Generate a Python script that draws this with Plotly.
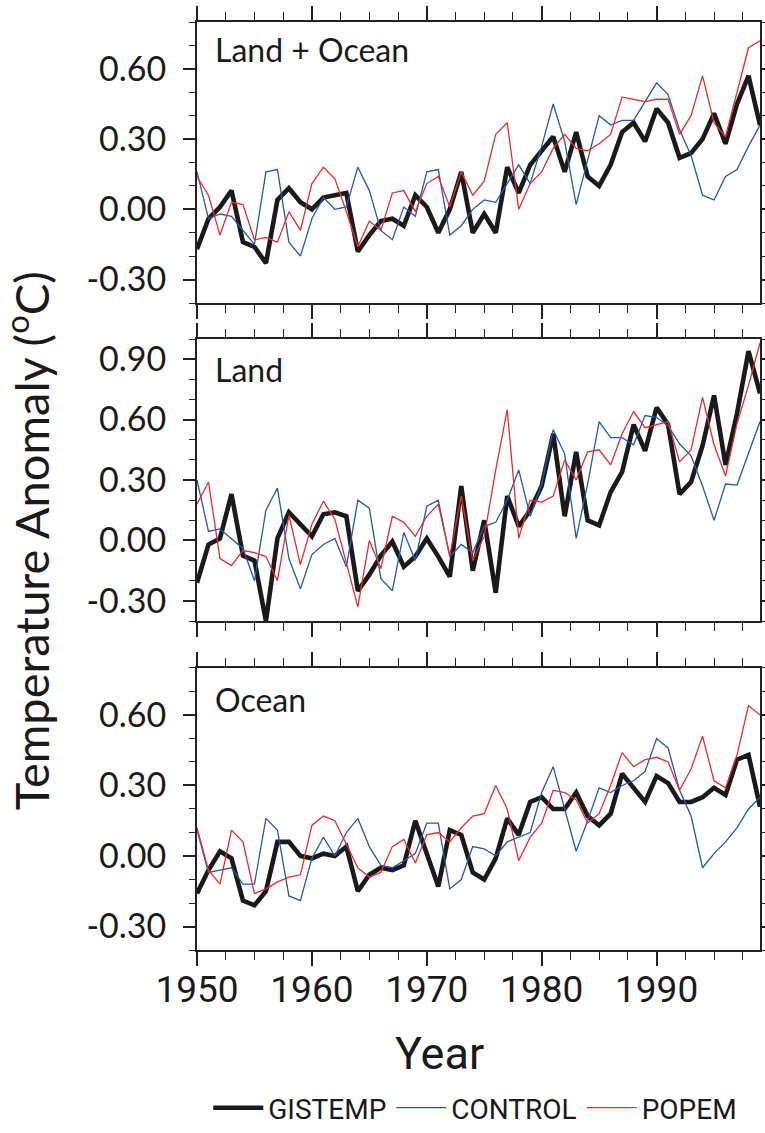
import plotly.graph_objects as go

years = list(range(1950, 2000))

# Land + Ocean
lo_gistemp = [-0.17, -0.04, 0.01, 0.08, -0.14, -0.16, -0.23, 0.04, 0.09, 0.03,
              0.00, 0.05, 0.06, 0.07, -0.18, -0.11, -0.05, -0.04, -0.07, 0.06,
              0.01, -0.10, 0.00, 0.16, -0.10, -0.02, -0.10, 0.18, 0.07, 0.19,
              0.25, 0.31, 0.16, 0.33, 0.14, 0.10, 0.19, 0.33, 0.37, 0.29,
              0.43, 0.37, 0.22, 0.24, 0.30, 0.41, 0.28, 0.45, 0.57, 0.36]
lo_control = [0.16, -0.04, -0.02, -0.03, -0.09, -0.15, 0.16, 0.17, -0.14, -0.20,
              -0.04, 0.05, 0.00, 0.01, 0.18, 0.08, -0.09, -0.13, 0.01, -0.03,
              0.16, 0.17, -0.11, -0.07, 0.00, 0.04, 0.03, 0.11, 0.19, 0.11,
              0.27, 0.45, 0.29, 0.02, 0.21, 0.40, 0.36, 0.38, 0.38, 0.46,
              0.54, 0.49, 0.34, 0.23, 0.06, 0.04, 0.14, 0.17, 0.27, 0.36]
lo_popem = [0.14, 0.06, -0.11, 0.03, 0.02, -0.13, -0.12, -0.14, -0.01, -0.09,
            0.11, 0.18, 0.13, -0.01, -0.16, -0.05, -0.09, 0.07, 0.08, -0.01,
            0.11, 0.14, 0.01, 0.16, 0.06, 0.12, 0.32, 0.37, 0.00, 0.11,
            0.16, 0.26, 0.32, 0.26, 0.25, 0.28, 0.32, 0.48, 0.47, 0.46,
            0.47, 0.47, 0.32, 0.40, 0.57, 0.37, 0.31, 0.50, 0.69, 0.72]

# Land
land_gistemp = [-0.21, -0.02, 0.01, 0.23, -0.075, -0.10, -0.40, 0.01, 0.14, 0.08,
                0.02, 0.13, 0.14, 0.12, -0.25, -0.17, -0.075, -0.005, -0.13, -0.08,
                0.01, -0.08, -0.18, 0.27, -0.15, 0.10, -0.26, 0.22, 0.07, 0.15,
                0.27, 0.53, 0.12, 0.44, 0.10, 0.075, 0.24, 0.34, 0.575, 0.445,
                0.66, 0.575, 0.23, 0.29, 0.47, 0.72, 0.375, 0.63, 0.94, 0.73]
land_control = [0.30, 0.045, 0.057, 0.01, -0.04, -0.20, 0.15, 0.26, -0.09, -0.24,
                -0.07, -0.02, 0.01, -0.13, 0.20, 0.16, -0.19, -0.25, 0.04, -0.10,
                0.17, 0.20, -0.08, -0.02, -0.06, 0.07, 0.09, 0.20, 0.35, 0.12,
                0.28, 0.55, 0.43, 0.01, 0.28, 0.59, 0.51, 0.51, 0.475, 0.62,
                0.61, 0.57, 0.48, 0.42, 0.27, 0.10, 0.28, 0.275, 0.43, 0.59]
land_popem = [0.18, 0.29, -0.09, -0.125, -0.05, -0.06, -0.08, -0.20, 0.125, -0.12,
              0.08, 0.195, 0.105, -0.11, -0.33, 0.00, -0.14, 0.12, 0.09, 0.02,
              0.12, 0.18, -0.075, 0.22, -0.10, 0.02, 0.35, 0.65, 0.01, 0.20,
              0.19, 0.22, 0.40, 0.30, 0.44, 0.45, 0.375, 0.53, 0.64, 0.56,
              0.575, 0.59, 0.39, 0.45, 0.71, 0.475, 0.32, 0.58, 0.77, 0.98]

# Ocean
ocean_gistemp = [-0.16, -0.06, 0.02, -0.01, -0.19, -0.21, -0.15, 0.06, 0.06, 0.00,
                 -0.01, 0.01, 0.00, 0.04, -0.15, -0.08, -0.05, -0.06, -0.04, 0.15,
                 0.01, -0.13, 0.11, 0.09, -0.07, -0.10, -0.01, 0.16, 0.09, 0.23,
                 0.25, 0.20, 0.20, 0.27, 0.17, 0.13, 0.18, 0.35, 0.29, 0.23,
                 0.34, 0.31, 0.23, 0.23, 0.25, 0.29, 0.26, 0.41, 0.43, 0.21]
ocean_control = [0.11, -0.07, -0.06, -0.05, -0.12, -0.12, 0.16, 0.11, -0.17, -0.19,
                 -0.01, 0.08, 0.00, 0.10, 0.16, 0.04, -0.04, -0.05, -0.02, 0.01,
                 0.14, 0.14, -0.14, -0.10, 0.04, 0.03, 0.00, 0.06, 0.08, 0.10,
                 0.27, 0.38, 0.20, 0.02, 0.15, 0.29, 0.27, 0.30, 0.32, 0.36,
                 0.50, 0.46, 0.28, 0.17, -0.05, 0.01, 0.06, 0.12, 0.20, 0.25]
ocean_popem = [0.12, -0.06, -0.12, 0.11, 0.06, -0.16, -0.14, -0.11, -0.09, -0.08,
               0.13, 0.17, 0.15, 0.05, -0.05, -0.09, -0.07, 0.04, 0.07, -0.03,
               0.09, 0.10, 0.06, 0.12, 0.17, 0.18, 0.30, 0.20, -0.02, 0.08,
               0.14, 0.28, 0.27, 0.24, 0.14, 0.18, 0.30, 0.44, 0.38, 0.41,
               0.42, 0.40, 0.28, 0.37, 0.51, 0.32, 0.29, 0.43, 0.64, 0.60]

panel_names = ["Land + Ocean", "Land", "Ocean"]
series_names = ["GISTEMP", "CONTROL", "POPEM"]
y_ranges = [[-0.4, 0.8], [-0.4, 1.0], [-0.4, 0.8]]
y_tickvals = [[-0.3, 0.0, 0.3, 0.6], [-0.3, 0.0, 0.3, 0.6, 0.9], [-0.3, 0.0, 0.3, 0.6]]
y_ticktext = [["-0.30", "0.00", "0.30", "0.60"],
              ["-0.30", "0.00", "0.30", "0.60", "0.90"],
              ["-0.30", "0.00", "0.30", "0.60"]]
x_tickvals = [1950, 1960, 1970, 1980, 1990]
x_ticktext = ["1950", "1960", "1970", "1980", "1990"]

data = [[lo_gistemp, lo_control, lo_popem],
        [land_gistemp, land_control, land_popem],
        [ocean_gistemp, ocean_control, ocean_popem]]

colors = ["#1a1a1a", "#2158b0", "#ee2a2a"]
widths = [4.6, 1.3, 1.3]

NARROW = "Roboto, Liberation Sans, sans-serif"
HUMAN = "Lato, Open Sans, sans-serif"
AX = "#222222"

fig = go.Figure()
for p in range(3):
    xa = "x" if p == 0 else f"x{p+1}"
    ya = "y" if p == 0 else f"y{p+1}"
    for s in range(3):
        fig.add_trace(go.Scatter(
            x=years, y=data[p][s], mode="lines", name=series_names[s],
            line=dict(color=colors[s], width=widths[s]),
            xaxis=xa, yaxis=ya, legendgroup=series_names[s],
            showlegend=(p == 0), cliponaxis=True))

# vertical domains (pixel layout of the three panels)
domains = [[0.6972, 1.0], [0.3545, 0.6584], [0.0, 0.3039]]

layout = dict(
    width=765, height=1133,
    margin=dict(l=197, r=5, t=22, b=183, autoexpand=False),
    paper_bgcolor="white", plot_bgcolor="white",
    showlegend=True,
    legend=dict(orientation="h", x=0.02, xanchor="left",
                yref="container", y=0.0, yanchor="bottom",
                font=dict(family=NARROW, size=28, color="#1a1a1a"),
                itemwidth=50, tracegroupgap=0, bgcolor="rgba(0,0,0,0)"),
)
for p in range(3):
    xk = "xaxis" if p == 0 else f"xaxis{p+1}"
    yk = "yaxis" if p == 0 else f"yaxis{p+1}"
    ya = "y" if p == 0 else f"y{p+1}"
    xa = "x" if p == 0 else f"x{p+1}"
    layout[xk] = dict(
        domain=[0, 1], anchor=ya, range=[1950, 1999],
        tickmode="array", tickvals=x_tickvals, ticktext=x_ticktext,
        showticklabels=(p == 2), ticks="outside", ticklen=14, tickwidth=1.6, tickcolor=AX,
        showline=True, linewidth=1.8, linecolor=AX, mirror="ticks",
        showgrid=False, zeroline=False,
        tickfont=dict(family=NARROW, size=37, color="#1a1a1a"),
        ticklabelstandoff=-8,
        minor=dict(tickmode="linear", tick0=1950, dtick=2.5, ticks="outside", ticklen=8,
                   tickwidth=1.4, tickcolor=AX, showgrid=False),
    )
    if p < 2:
        layout[xk]["matches"] = "x3"
    layout[yk] = dict(
        domain=domains[p], anchor=xa, range=y_ranges[p],
        tickmode="array", tickvals=y_tickvals[p], ticktext=y_ticktext[p],
        ticks="outside", ticklen=12, tickwidth=1.6, tickcolor=AX,
        showline=True, linewidth=1.8, linecolor=AX, mirror="ticks",
        showgrid=False, zeroline=False,
        tickfont=dict(family=HUMAN, size=34, color="#1a1a1a"),
        ticklabelstandoff=10,
        minor=dict(tickmode="linear", tick0=0, dtick=0.1, ticks="outside", ticklen=6,
                   tickwidth=1.4, tickcolor=AX, showgrid=False),
    )
fig.update_layout(**layout)

label_offsets = [28, 30, 32]
panel_heights = [281, 282, 282]
for p in range(3):
    xa = "x" if p == 0 else f"x{p+1}"
    ya = "y" if p == 0 else f"y{p+1}"
    fig.add_annotation(text=panel_names[p], xref=f"{xa} domain", yref=f"{ya} domain",
                       x=0.028, y=1 - label_offsets[p] / panel_heights[p],
                       xanchor="left", yanchor="middle", showarrow=False,
                       font=dict(family=HUMAN, size=32, color="#1a1a1a"))

fig.add_annotation(text="Temperature Anomaly (<sup>o</sup>C)", xref="paper", yref="paper",
                   x=-0.300, y=0.4407, xanchor="center", yanchor="middle", textangle=-90,
                   showarrow=False, font=dict(family=HUMAN, size=47, color="#1a1a1a"))
fig.add_annotation(text="Year", xref="paper", yref="paper",
                   x=0.4316, y=-0.112, xanchor="center", yanchor="middle",
                   showarrow=False, font=dict(family=NARROW, size=45, color="#1a1a1a"))

fig.write_html("out.html")
